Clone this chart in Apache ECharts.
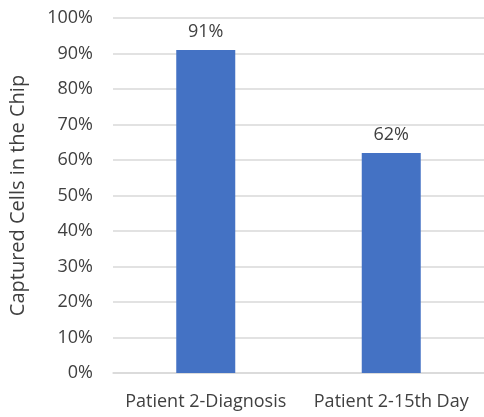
<!DOCTYPE html>
<html>
<head>
<meta charset="utf-8">
<script src="https://cdn.jsdelivr.net/npm/echarts@6/dist/echarts.min.js"></script>
<style>
  html, body { margin: 0; padding: 0; background: #fff; }
  #chart { width: 484px; height: 417px; }
</style>
</head>
<body>
<div id="chart"></div>
<script>
// Share of cells captured in the chip, per sample
const categories = ['Patient 2-Diagnosis', 'Patient 2-15th Day'];
const capturedPct = [91, 62];
const yTicks = [0, 10, 20, 30, 40, 50, 60, 70, 80, 90, 100];

const font = '"Open Sans", "Noto Sans", sans-serif';
const chart = echarts.init(document.getElementById('chart'), null, { renderer: 'canvas' });

chart.setOption({
  animation: false,
  backgroundColor: '#ffffff',
  grid: { left: 107, top: 18, width: 380, height: 355, containLabel: false },
  xAxis: {
    type: 'category',
    data: categories,
    axisLine: { show: true, lineStyle: { color: '#d9d9d9', width: 1.5 } },
    axisTick: { show: false },
    axisLabel: { interval: 0, hideOverlap: false, color: '#404040', fontFamily: font, fontSize: 18, margin: 20 }
  },
  yAxis: {
    type: 'value',
    min: yTicks[0],
    max: yTicks[yTicks.length - 1],
    interval: 10,
    name: 'Captured Cells in the Chip',
    nameLocation: 'middle',
    nameGap: 85,
    nameRotate: 90,
    nameTextStyle: { color: '#404040', fontFamily: font, fontSize: 20 },
    axisLine: { show: false },
    axisTick: { show: false },
    axisLabel: {
      color: '#404040', fontFamily: font, fontSize: 18, margin: 20,
      formatter: v => v + '%'
    },
    splitLine: { lineStyle: { color: '#d9d9d9', width: 1.5 } }
  },
  series: [{
    type: 'bar',
    data: capturedPct,
    barWidth: 59,
    itemStyle: { color: '#4472c4' },
    label: {
      show: true,
      position: 'top',
      distance: 9,
      color: '#404040',
      fontFamily: font,
      fontSize: 18,
      formatter: p => p.value + '%'
    }
  }]
});
</script>
</body>
</html>
